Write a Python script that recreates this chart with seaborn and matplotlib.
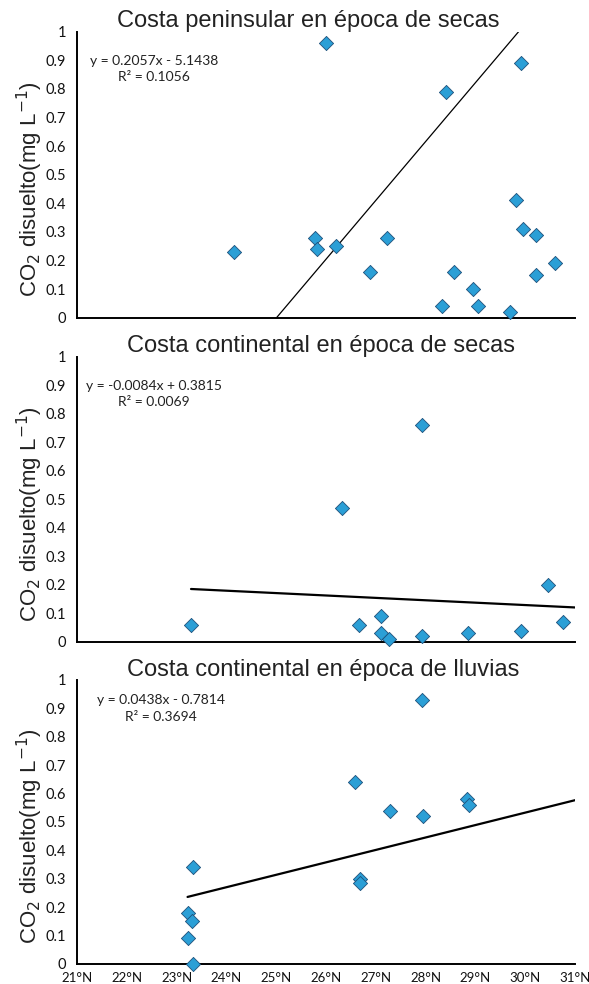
import matplotlib
matplotlib.use("Agg")
import matplotlib.pyplot as plt
import seaborn as sns
import numpy as np
import pandas as pd

sns.set_theme(style="white")
plt.rcParams['font.family'] = ['Liberation Sans', 'DejaVu Sans']

# ---------------- data ----------------
titles = ["Costa peninsular en época de secas",
          "Costa continental en época de secas",
          "Costa continental en época de lluvias"]

lat_pen_secas = [24.16, 26.01, 25.77, 25.81, 26.21, 27.22, 26.88, 28.41, 28.32, 28.58,
                 28.96, 29.05, 29.69, 29.81, 29.92, 29.95, 30.21, 30.21, 30.60]
co2_pen_secas = [0.23, 0.96, 0.28, 0.24, 0.25, 0.28, 0.16, 0.79, 0.04, 0.16,
                 0.10, 0.04, 0.02, 0.41, 0.89, 0.31, 0.29, 0.15, 0.19]

lat_con_secas = [23.29, 26.33, 26.67, 27.10, 27.11, 27.27, 27.92, 27.93, 28.85, 29.91,
                 30.46, 30.75]
co2_con_secas = [0.06, 0.47, 0.06, 0.09, 0.03, 0.01, 0.76, 0.02, 0.03, 0.04,
                 0.20, 0.07]

lat_con_lluvias = [27.92, 26.58, 27.28, 27.94, 28.83, 28.87, 26.69, 26.69, 23.32, 23.22,
                   23.30, 23.22, 23.33]
co2_con_lluvias = [0.93, 0.64, 0.54, 0.52, 0.58, 0.56, 0.30, 0.285, 0.34, 0.18,
                   0.15, 0.09, 0.0]

slopes = [0.2057, -0.0084, 0.0438]
intercepts = [-5.1438, 0.3815, -0.7814]
r2_values = ["0.1056", "0.0069", "0.3694"]
equations = ["y = 0.2057x - 5.1438", "y = -0.0084x + 0.3815", "y = 0.0438x - 0.7814"]

x_ticks = list(range(21, 32))
x_tick_labels = [f"{v}°N" for v in x_ticks]
y_ticks = [0, 0.1, 0.2, 0.3, 0.4, 0.5, 0.6, 0.7, 0.8, 0.9, 1]
y_tick_labels = ["0", "0.1", "0.2", "0.3", "0.4", "0.5", "0.6", "0.7", "0.8", "0.9", "1"]
trend_end = 31

datasets = [(lat_pen_secas, co2_pen_secas),
            (lat_con_secas, co2_con_secas),
            (lat_con_lluvias, co2_con_lluvias)]

# ---------------- layout ----------------
fig = plt.figure(figsize=(5.89, 9.84), dpi=100)
left, width = 0.1307, 0.8455
rects = [[left, 0.6771, width, 0.2907],
         [left, 0.3476, width, 0.2896],
         [left, 0.0205, width, 0.2885]]
title_x = [0.464, 0.489, 0.494]
eq_pos = [(0.155, 0.87), (0.155, 0.87), (0.169, 0.90)]
trend_lw = [0.9, 1.6, 1.6]

marker_face = "#2b9fd6"
marker_edge = "#1d4f7a"
tick_font = ['Lato', 'DejaVu Sans']

for i, (xs, ys) in enumerate(datasets):
    ax = fig.add_axes(rects[i])
    df = pd.DataFrame({"lat": xs, "co2": ys})
    # trend line
    tx = np.linspace(min(xs), trend_end, 50)
    tdf = pd.DataFrame({"lat": tx, "fit": slopes[i] * tx + intercepts[i]})
    sns.lineplot(data=tdf, x="lat", y="fit", ax=ax, color="black",
                 lw=trend_lw[i], zorder=2)
    sns.scatterplot(data=df, x="lat", y="co2", ax=ax, marker="D", s=52,
                    color=marker_face, edgecolor=marker_edge, linewidth=0.6,
                    zorder=3, clip_on=False)
    ax.set_xlim(21, 31)
    ax.set_ylim(0, 1)
    ax.set_xticks(x_ticks)
    ax.set_yticks(y_ticks)
    ax.set_yticklabels(y_tick_labels, family=tick_font, fontsize=10.5)
    if i == 2:
        ax.set_xticklabels(x_tick_labels, family=tick_font, fontsize=9.5)
        ax.tick_params(axis="x", direction="inout", length=6, width=1.2, pad=3)
    else:
        ax.set_xticklabels([])
        ax.tick_params(axis="x", direction="out", length=5, width=1.2)
    ax.tick_params(axis="y", direction="out", length=5, width=1.2, pad=3)
    ax.tick_params(colors="black", labelcolor="#111111")
    ax.set_xlabel("")
    ax.set_ylabel("")
    for side in ["top", "right"]:
        ax.spines[side].set_visible(False)
    for side in ["left", "bottom"]:
        ax.spines[side].set_visible(True)
        ax.spines[side].set_color("black")
        ax.spines[side].set_linewidth(1.4)
    ax.set_title(titles[i], x=title_x[i], pad=3, fontsize=17, color="#222222")
    ax.text(-0.094, 0.45, "CO$_2$ disuelto(mg L$^{-1}$)", transform=ax.transAxes,
            rotation=90, ha="center", va="center", fontsize=16, color="#222222")
    ax.text(eq_pos[i][0], eq_pos[i][1], f"{equations[i]}\nR² = {r2_values[i]}",
            transform=ax.transAxes, ha="center", va="center", fontsize=10,
            family=tick_font, color="#222222", linespacing=1.45)
    ax.grid(False)

fig.savefig("out.png", dpi=100)
